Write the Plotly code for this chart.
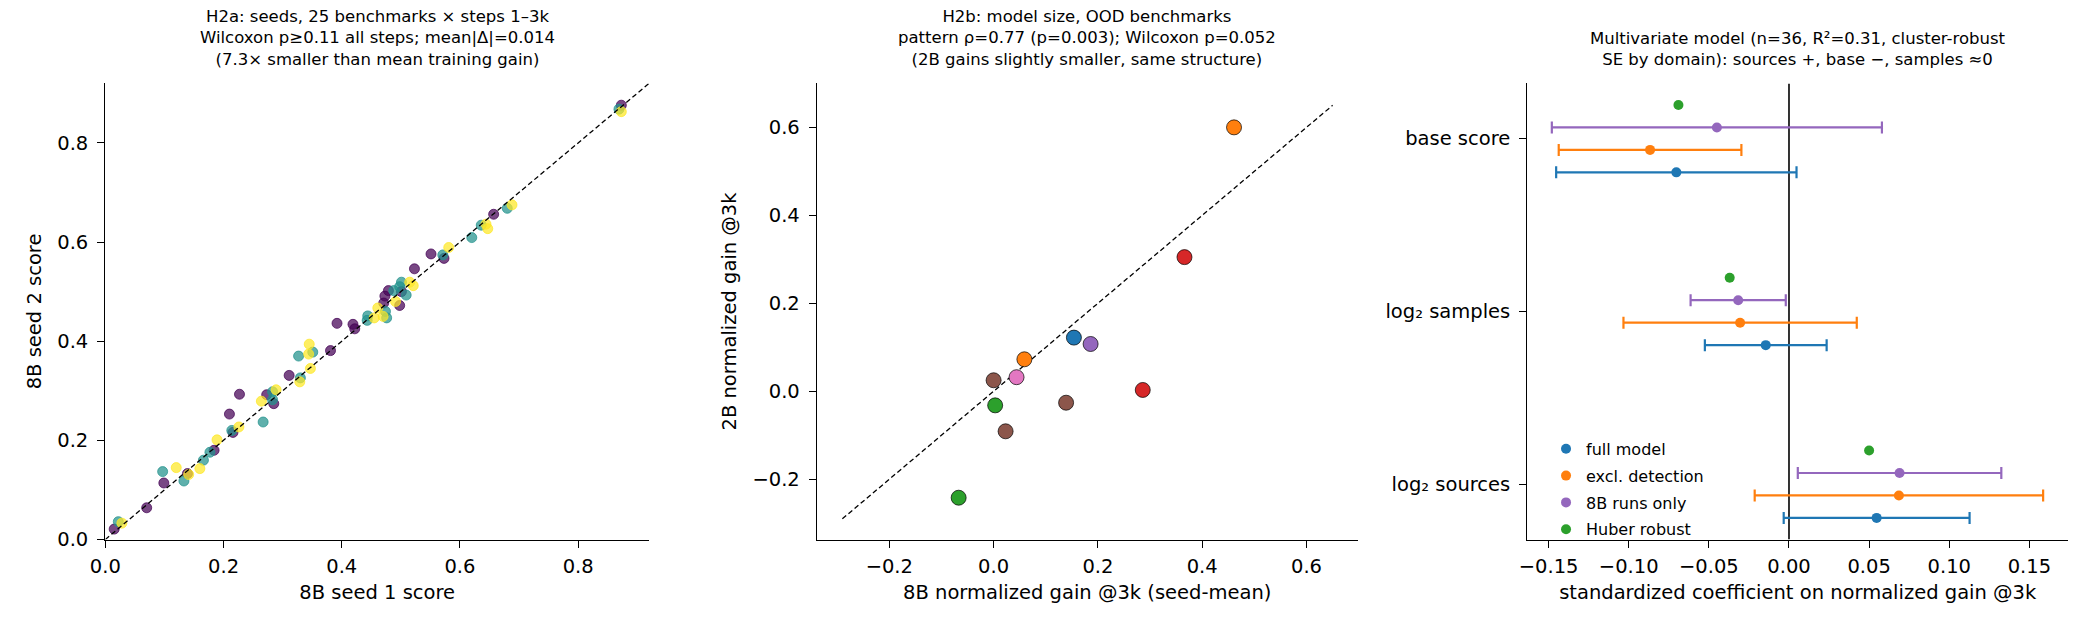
import plotly.graph_objects as go

# ---------------- data ----------------
# Panel 1: seed 1 vs seed 2 scores, by step
p1_step1_x = [0.873, 0.657, 0.551, 0.573, 0.523, 0.479, 0.501, 0.473, 0.471, 0.498, 0.392, 0.419, 0.422,
              0.381, 0.311, 0.227, 0.273, 0.285, 0.210, 0.216, 0.184, 0.139, 0.099, 0.070, 0.015]
p1_step1_y = [0.876, 0.656, 0.576, 0.567, 0.546, 0.502, 0.500, 0.491, 0.477, 0.472, 0.436, 0.434, 0.425,
              0.381, 0.331, 0.293, 0.292, 0.274, 0.253, 0.216, 0.180, 0.133, 0.114, 0.064, 0.021]
p1_step2_x = [0.869, 0.680, 0.636, 0.620, 0.571, 0.501, 0.498, 0.488, 0.509, 0.444, 0.474, 0.443, 0.476,
              0.351, 0.327, 0.330, 0.283, 0.283, 0.267, 0.214, 0.177, 0.166, 0.097, 0.133, 0.022]
p1_step2_y = [0.868, 0.668, 0.634, 0.609, 0.574, 0.519, 0.510, 0.502, 0.493, 0.451, 0.460, 0.442, 0.447,
              0.378, 0.370, 0.326, 0.298, 0.282, 0.237, 0.220, 0.176, 0.160, 0.137, 0.118, 0.036]
p1_step3_x = [0.873, 0.688, 0.644, 0.647, 0.581, 0.515, 0.521, 0.491, 0.461, 0.455, 0.470, 0.345, 0.344,
              0.347, 0.329, 0.289, 0.264, 0.226, 0.189, 0.160, 0.120, 0.141, 0.028]
p1_step3_y = [0.863, 0.675, 0.636, 0.627, 0.589, 0.519, 0.512, 0.480, 0.467, 0.447, 0.450, 0.394, 0.374,
              0.345, 0.318, 0.302, 0.279, 0.227, 0.201, 0.143, 0.145, 0.131, 0.033]
p1_colors = ["rgba(68,1,84,0.72)", "rgba(33,145,140,0.72)", "rgba(253,231,37,0.72)"]
p1_ticks = [0.0, 0.2, 0.4, 0.6, 0.8]
p1_ticktext = ["0.0", "0.2", "0.4", "0.6", "0.8"]

# Panel 2: 8B vs 2B normalized gain, coloured by domain
p2_x = [0.461, 0.366, 0.154, 0.186, 0.059, 0.044, 0.000, 0.286, 0.139, 0.003, 0.023, -0.067]
p2_y = [0.600, 0.305, 0.122, 0.1075, 0.0727, 0.032, 0.025, 0.003, -0.026, -0.032, -0.091, -0.242]
p2_colors = ["#ff7f0e", "#d62728", "#1f77b4", "#9467bd", "#ff7f0e", "#e377c2", "#8c564b",
             "#d62728", "#8c564b", "#2ca02c", "#8c564b", "#2ca02c"]
p2_diag = [-0.29, 0.65]
p2_ticks = [-0.2, 0.0, 0.2, 0.4, 0.6]
p2_ticktext = ["\u22120.2", "0.0", "0.2", "0.4", "0.6"]

# Panel 3: coefficient plot
p3_predictors = ["log\u2082 sources", "log\u2082 samples", "base score"]
p3_models = ["full model", "excl. detection", "8B runs only", "Huber robust"]
p3_model_colors = ["#1f77b4", "#ff7f0e", "#9467bd", "#2ca02c"]
p3_offsets = [-0.195, -0.065, 0.065, 0.195]
p3_coef = [
    [0.0547, -0.0145, -0.0703],   # full model
    [0.0686, -0.0305, -0.0867],   # excl. detection
    [0.0690, -0.0317, -0.0450],   # 8B runs only
    [0.0500, -0.0370, -0.0690],   # Huber robust
]
p3_err = [
    [0.058, 0.038, 0.075],
    [0.090, 0.0728, 0.057],
    [0.0635, 0.0297, 0.103],
    None,
]
p3_xticks = [-0.15, -0.10, -0.05, 0.00, 0.05, 0.10, 0.15]
p3_xticktext = ["\u22120.15", "\u22120.10", "\u22120.05", "0.00", "0.05", "0.10", "0.15"]

titles = [
    "H2a: seeds, 25 benchmarks \u00d7 steps 1\u20133k<br>Wilcoxon p\u22650.11 all steps; mean|\u0394|=0.014<br>(7.3\u00d7 smaller than mean training gain)",
    "H2b: model size, OOD benchmarks<br>pattern \u03c1=0.77 (p=0.003); Wilcoxon p=0.052<br>(2B gains slightly smaller, same structure)",
    "Multivariate model (n=36, R\u00b2=0.31, cluster-robust<br>SE by domain): sources +, base \u2212, samples \u22480",
]

# ---------------- figure ----------------
W, H = 2085, 629
FONT = "DejaVu Sans"
TICK = 19.5
doms = [(90 / W, 638 / W), (807 / W, 1352 / W), (1523 / W, 2068 / W)]
ydom = (1 - 550 / H, 1 - 85 / H)

fig = go.Figure()

# panel 1
for xs, ys, c in zip([p1_step1_x, p1_step2_x, p1_step3_x], [p1_step1_y, p1_step2_y, p1_step3_y], p1_colors):
    fig.add_trace(go.Scatter(x=xs, y=ys, mode="markers", xaxis="x", yaxis="y", showlegend=False,
                             marker=dict(size=10, color=c, line=dict(color=c, width=1))))
fig.add_trace(go.Scatter(x=[0, 0.92], y=[0, 0.92], mode="lines", xaxis="x", yaxis="y", showlegend=False,
                         line=dict(color="black", width=1.3, dash="5px,3px")))

# panel 2
fig.add_trace(go.Scatter(x=p2_diag, y=p2_diag, mode="lines", xaxis="x2", yaxis="y2", showlegend=False,
                         line=dict(color="black", width=1.3, dash="5px,3px")))
fig.add_trace(go.Scatter(x=p2_x, y=p2_y, mode="markers", xaxis="x2", yaxis="y2", showlegend=False,
                         marker=dict(size=15, color=p2_colors, line=dict(color="black", width=0.7))))

# panel 3
fig.add_trace(go.Scatter(x=[0, 0], y=[-0.32, 2.32], mode="lines", xaxis="x3", yaxis="y3", showlegend=False,
                         line=dict(color="black", width=1.6)))
for m, name in enumerate(p3_models):
    ys = [i + p3_offsets[m] for i in range(len(p3_predictors))]
    err = None
    if p3_err[m] is not None:
        err = dict(type="data", array=p3_err[m], symmetric=True, color=p3_model_colors[m],
                   thickness=2.2, width=6)
    fig.add_trace(go.Scatter(x=p3_coef[m], y=ys, mode="markers", name=name, xaxis="x3", yaxis="y3",
                             legendgroup="g%d" % m,
                             marker=dict(size=10, color=p3_model_colors[m]), error_x=err))

axis_common = dict(showline=True, linecolor="black", linewidth=1.3, mirror=False, ticks="outside",
                   ticklen=7, tickwidth=1.3, tickcolor="black", showgrid=False, zeroline=False,
                   tickfont=dict(family=FONT, size=TICK, color="black"))

fig.update_layout(
    width=W, height=H, margin=dict(l=0, r=0, t=0, b=0),
    paper_bgcolor="white", plot_bgcolor="white",
    font=dict(family=FONT, color="black"),
    xaxis=dict(domain=doms[0], range=[0, 0.92], tickvals=p1_ticks, ticktext=p1_ticktext, anchor="y",
               ticklabelstandoff=2,
               title=dict(text="8B seed 1 score", font=dict(size=TICK), standoff=8), **axis_common),
    yaxis=dict(domain=ydom, range=[0, 0.92], tickvals=p1_ticks, ticktext=p1_ticktext, anchor="x",
               ticklabelstandoff=5,
               title=dict(text="8B seed 2 score", font=dict(size=TICK), standoff=10), **axis_common),
    xaxis2=dict(domain=doms[1], range=[-0.339, 0.698], tickvals=p2_ticks, ticktext=p2_ticktext, anchor="y2",
                ticklabelstandoff=2,
                title=dict(text="8B normalized gain @3k (seed-mean)", font=dict(size=TICK), standoff=8), **axis_common),
    yaxis2=dict(domain=ydom, range=[-0.337, 0.70], tickvals=p2_ticks, ticktext=p2_ticktext, anchor="x2",
                ticklabelstandoff=5,
                title=dict(text="2B normalized gain @3k", font=dict(size=TICK), standoff=10), **axis_common),
    xaxis3=dict(domain=doms[2], range=[-0.1633, 0.1742], tickvals=p3_xticks, ticktext=p3_xticktext, anchor="y3",
                ticklabelstandoff=2,
                title=dict(text="standardized coefficient on normalized gain @3k", font=dict(size=TICK), standoff=8),
                **axis_common),
    yaxis3=dict(domain=ydom, range=[-0.32, 2.32], tickvals=[0, 1, 2], ticktext=p3_predictors, anchor="x3",
                ticklabelstandoff=5, **axis_common),
    legend=dict(x=0.7395, y=0.300, xanchor="left", yanchor="top", bgcolor="rgba(0,0,0,0)",
                font=dict(family=FONT, size=16, color="black"), tracegroupgap=3, itemwidth=30),
)

for d, t in zip(doms, titles):
    fig.add_annotation(text=t, xref="paper", yref="paper", x=(d[0] + d[1]) / 2, y=1 - 72 / H,
                       xanchor="center", yanchor="bottom", showarrow=False, align="center",
                       font=dict(family=FONT, size=16.5, color="black"))

fig.write_html("out.html")
